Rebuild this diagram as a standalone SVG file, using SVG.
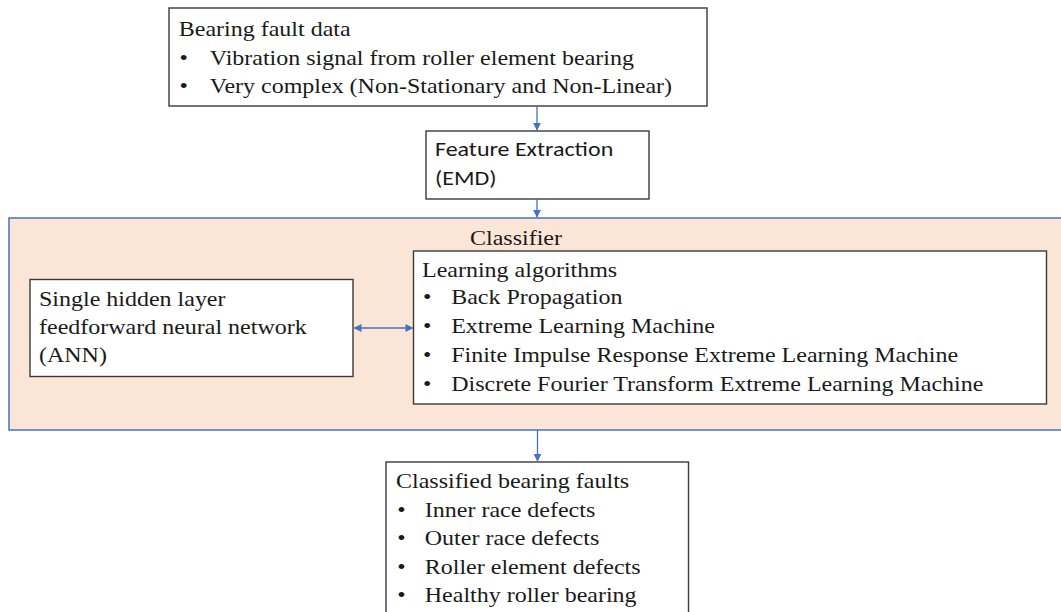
<svg xmlns="http://www.w3.org/2000/svg" width="1061" height="612" viewBox="0 0 1061 612">
  <style>
    .box { fill: #ffffff; stroke: #3a3a3a; stroke-width: 1.4; }
    .group { fill: #fbe5d6; stroke: #4472c4; stroke-width: 1.5; }
    .serif { font-family: "Liberation Serif", "Times New Roman", serif; font-size: 20px; fill: #1a1a1a; }
    .sans { font-family: Carlito, Calibri, "Liberation Sans", sans-serif; font-size: 20px; fill: #1a1a1a; }
    .link { stroke: #4472c4; stroke-width: 1.3; fill: none; }
  </style>
  <defs>
    <marker id="arrow" viewBox="0 0 10 10" refX="9" refY="5" markerWidth="6" markerHeight="6" orient="auto-start-reverse">
      <path d="M0,0 L10,5 L0,10 z" fill="#4472c4"/>
    </marker>
  </defs>
  <rect width="1061" height="612" fill="#ffffff"/>

  <!-- Text is set in a horizontally widened frame (scale 1.2 : 1) -->
  <g id="classifier">
    <rect class="group" x="9" y="218" width="1060" height="212"/>
    <g transform="scale(1.2 1)">
      <text class="serif" x="391.7" y="245">Classifier</text>
    </g>
  </g>

  <g id="bearing-data">
    <rect class="box" x="169" y="8" width="538" height="98"/>
    <g transform="scale(1.2 1)">
      <text class="serif" x="149" y="36.5">Bearing fault data</text>
      <text class="serif" x="149.5" y="65">•</text>
      <text class="serif" x="174.8" y="65">Vibration signal from roller element bearing</text>
      <text class="serif" x="149.5" y="93.5">•</text>
      <text class="serif" x="174.8" y="93.5">Very complex (Non-Stationary and Non-Linear)</text>
    </g>
  </g>

  <g id="feature-extraction">
    <rect class="box" x="426" y="131" width="223" height="68"/>
    <g transform="scale(1.2 1)">
      <text class="sans" x="362.5" y="156">Feature Extraction</text>
      <text class="sans" x="362.5" y="185">(EMD)</text>
    </g>
  </g>

  <g id="ann">
    <rect class="box" x="30" y="279.5" width="323" height="97"/>
    <g transform="scale(1.2 1)">
      <text class="serif" x="32.5" y="306.5">Single hidden layer</text>
      <text class="serif" x="32.5" y="334.5">feedforward neural network</text>
      <text class="serif" x="32.5" y="362.5">(ANN)</text>
    </g>
  </g>

  <g id="learning-algorithms">
    <rect class="box" x="413.5" y="251" width="633" height="153"/>
    <g transform="scale(1.2 1)">
      <text class="serif" x="351.7" y="276.7">Learning algorithms</text>
      <text class="serif" x="352.5" y="304.5">•</text>
      <text class="serif" x="376" y="304.5">Back Propagation</text>
      <text class="serif" x="352.5" y="333.3">•</text>
      <text class="serif" x="376" y="333.3">Extreme Learning Machine</text>
      <text class="serif" x="352.5" y="362.2">•</text>
      <text class="serif" x="376" y="362.2">Finite Impulse Response Extreme Learning Machine</text>
      <text class="serif" x="352.5" y="390.8">•</text>
      <text class="serif" x="376" y="390.8">Discrete Fourier Transform Extreme Learning Machine</text>
    </g>
  </g>

  <g id="classified-faults">
    <rect class="box" x="386" y="462" width="302.5" height="160"/>
    <g transform="scale(1.2 1)">
      <text class="serif" x="330" y="488.3">Classified bearing faults</text>
      <text class="serif" x="331" y="516.7">•</text>
      <text class="serif" x="354" y="516.7">Inner race defects</text>
      <text class="serif" x="331" y="545.2">•</text>
      <text class="serif" x="354" y="545.2">Outer race defects</text>
      <text class="serif" x="331" y="573.8">•</text>
      <text class="serif" x="354" y="573.8">Roller element defects</text>
      <text class="serif" x="331" y="602.3">•</text>
      <text class="serif" x="354" y="602.3">Healthy roller bearing</text>
    </g>
  </g>

  <g id="connectors">
    <line class="link" x1="537" y1="106" x2="537" y2="130" marker-end="url(#arrow)"/>
    <line class="link" x1="537" y1="199" x2="537" y2="217" marker-end="url(#arrow)"/>
    <line class="link" x1="354.5" y1="328" x2="412.5" y2="328" marker-start="url(#arrow)" marker-end="url(#arrow)"/>
    <line class="link" x1="537.5" y1="430" x2="537.5" y2="461" marker-end="url(#arrow)"/>
  </g>
</svg>
